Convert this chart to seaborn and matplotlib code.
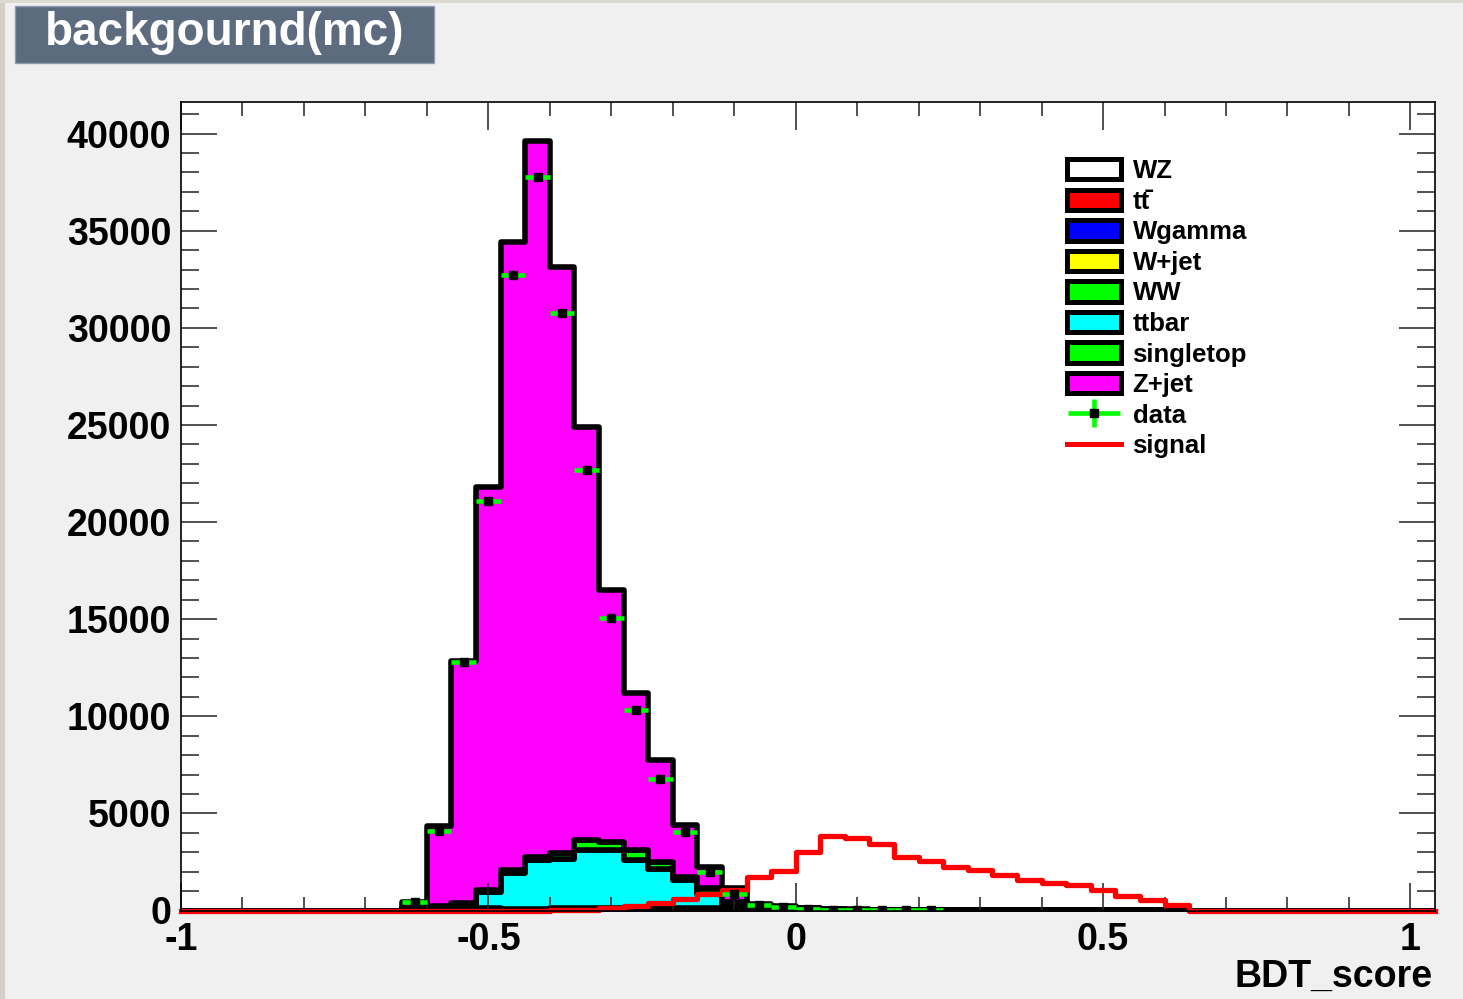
import numpy as np
import pandas as pd
import matplotlib
matplotlib.use('Agg')
import matplotlib.pyplot as plt
import seaborn as sns
from matplotlib.patches import Patch, Rectangle
from matplotlib.lines import Line2D
from matplotlib.container import ErrorbarContainer
from matplotlib.legend_handler import HandlerErrorbar

plt.rcParams['font.family'] = ['Liberation Sans', 'DejaVu Sans']
plt.rcParams['font.weight'] = 'bold'
plt.rcParams['axes.unicode_minus'] = False

# binning of BDT_score
x_min, x_max, bin_w = -1.0, 1.04, 0.04
first_edge = -0.64   # first filled bin, lists below start here

# stacked MC backgrounds (events per bin)
zjet = [290, 4100, 12460, 20750, 32290, 36910, 30170, 21290, 12940, 8110, 5260, 2680,
        1110, 700, 85, 50, 30, 20, 10, 10, 10, 10]
singletop = [60, 100, 140, 120, 160, 130, 300, 520, 450, 500, 380, 180,
             300, 200, 80, 50, 30, 15, 10, 5, 5, 5]
ttbar = [30, 60, 150, 850, 1850, 2500, 2560, 3000, 2980, 2500, 2020, 1450,
         730, 150, 80, 40, 20, 5]
ww = [20, 30, 40, 40, 40, 40, 50, 50, 50, 50, 50, 50, 50, 50, 40, 30, 25, 20, 15, 10, 10, 10, 5, 5]
wjet = [20, 40, 40, 40, 30, 30, 30, 30, 30, 30, 30, 30, 30, 30, 30, 30, 25, 15, 10, 5, 5, 5]
wgamma = [0, 0, 5, 5, 5, 5, 5, 5, 5, 5, 5, 5, 5, 5]
ttll = [0, 0, 0, 0, 5, 5, 5, 5, 5, 5, 5]
wz = [5, 10, 15, 20, 20, 20, 20, 20, 20, 20, 20, 20, 20, 20, 20, 20, 20, 15, 15, 10,
      10, 10, 10, 10, 10, 10, 8, 8, 6, 6, 5, 4]

# data and signal
data = [420, 4080, 12800, 21060, 32710, 37770, 30780, 22670, 15080, 10330, 6780, 4050,
        1970, 835, 280, 170, 100, 30, 15, 10, 8, 5]
signal = [0, 0, 0, 0, 0, 0, 20, 50, 110, 230, 400, 580, 830, 1060, 1700, 2010, 2990,
          3840, 3740, 3430, 2780, 2530, 2220, 2060, 1830, 1570, 1440, 1290, 1030, 750, 520, 260]

processes = ['WZ', 'tt\u0304', 'Wgamma', 'W+jet', 'WW', 'ttbar', 'singletop', 'Z+jet']
proc_values = [wz, ttll, wgamma, wjet, ww, ttbar, singletop, zjet]
proc_colors = ['#ffffff', '#ff0000', '#0000ff', '#ffff00', '#00ff00', '#00ffff', '#00ff00', '#ff00ff']

n_bins = int(round((x_max - x_min) / bin_w))
edges = np.linspace(x_min, x_max, n_bins + 1)
centers = edges[:-1] + bin_w / 2
start = int(round((first_edge - x_min) / bin_w))


def full(vals):
    out = np.zeros(n_bins)
    out[start:start + len(vals)] = vals
    return out


frames = []
for name, vals in zip(processes, proc_values):
    frames.append(pd.DataFrame({'bdt': centers, 'w': full(vals), 'process': name}))
df = pd.concat(frames, ignore_index=True)

fig = plt.figure(figsize=(14.63, 9.99), dpi=100, facecolor='#f0f0f0')
ax = fig.add_axes([181 / 1463, 88.5 / 999, 1254 / 1463, 808.5 / 999])
ax.set_facecolor('white')

# stack: seaborn puts first hue level on top
sns.histplot(data=df, x='bdt', weights='w', hue='process', hue_order=processes[::-1],
             palette=dict(zip(processes, proc_colors)), multiple='stack',
             bins=n_bins, binrange=(x_min, x_max),
             element='step', alpha=1, edgecolor='black', linewidth=4.0, legend=False, ax=ax)

sig_df = pd.DataFrame({'bdt': centers, 'w': full(signal)})
sns.histplot(data=sig_df, x='bdt', weights='w', bins=n_bins, binrange=(x_min, x_max),
             element='step', fill=False, color='#ff0000', linewidth=3.8, ax=ax)
for ln in ax.lines:
    ln.set_clip_on(False)
    ln.set_zorder(3)

d = full(data)
m = d > 0
eb = ax.errorbar(centers[m], d[m], xerr=bin_w / 2, yerr=np.sqrt(d[m]), fmt='s', color='black',
                 ms=6, ecolor='#00ff00', elinewidth=3.3, capsize=0, zorder=4)

ax.set_xlim(x_min, x_max)
ax.set_ylim(0, 41630)
ax.set_xticks([-1, -0.5, 0, 0.5, 1])
ax.set_xticklabels(['-1', '-0.5', '0', '0.5', '1'])
ax.set_xticks(np.round(np.arange(-1, 1.01, 0.1), 1), minor=True)
ax.set_yticks(np.arange(0, 40001, 5000))
ax.set_yticks(np.arange(0, 41001, 1000), minor=True)
ax.set_xlabel('')
ax.set_ylabel('')
ax.tick_params(axis='x', which='major', direction='in', length=20, width=1.1, top=True,
               labelsize=27, pad=8.5, color='#222222')
ax.tick_params(axis='x', which='minor', direction='in', length=10, width=1.1, top=True,
               color='#222222')
ax.tick_params(axis='y', which='major', direction='in', length=26, width=1.1, right=True,
               labelsize=27, pad=7, color='#222222')
ax.tick_params(axis='y', which='minor', direction='in', length=13, width=1.1, right=True,
               color='#222222')
for sp in ax.spines.values():
    sp.set_linewidth(1.2)
    sp.set_zorder(5)

fig.text(1433 / 1463, 1 - 987 / 999, 'BDT_score', ha='right', va='baseline',
         fontsize=27, fontweight='bold')

# legend
handles = [Patch(facecolor=c, edgecolor='black', linewidth=3.6, joinstyle='round')
           for c in proc_colors]
handles += [eb, Line2D([], [], color='#ff0000', lw=3.6)]
labels = processes + ['data', 'signal']
fig.legend(handles, labels, loc='upper left', bbox_to_anchor=(1067 / 1463, 1 - 159 / 999),
           frameon=False, borderpad=0, borderaxespad=0, handlelength=2.1,
           handleheight=0.85, labelspacing=0.25, handletextpad=0.45,
           prop={'weight': 'bold', 'size': 18.5},
           handler_map={ErrorbarContainer: HandlerErrorbar(xerr_size=1.0, yerr_size=0.55)})

# canvas title box and window border
fig.add_artist(Rectangle((15 / 1463, 1 - 62.7 / 999), 419 / 1463, 57 / 999,
                         transform=fig.transFigure, facecolor='#5d6b7e', edgecolor='#8d9bb0', lw=1))
fig.text(225 / 1463, 1 - 45 / 999, 'backgournd(mc)', ha='center', va='baseline',
         color='white', fontsize=33, fontweight='bold')
fig.add_artist(Rectangle((0, 0), 5 / 1463, 1, transform=fig.transFigure,
                         facecolor='#d4d0c8', edgecolor='none'))
fig.add_artist(Rectangle((0, 1 - 3 / 999), 1, 3 / 999, transform=fig.transFigure,
                         facecolor='#dcd9ce', edgecolor='none'))

fig.savefig('out.png', dpi=100, facecolor=fig.get_facecolor())
